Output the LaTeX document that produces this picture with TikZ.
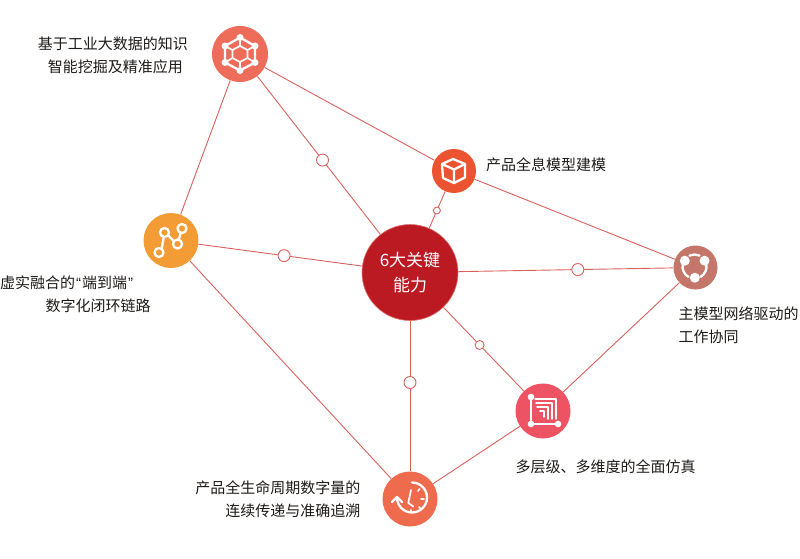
\documentclass[tikz,border=0pt]{standalone}
\usepackage{fontspec}
\setmainfont{Noto Sans CJK SC}
\newfontfamily\quotefont{Liberation Sans}
\definecolor{linkred}{HTML}{D9615C}
\definecolor{inktext}{HTML}{1E1A18}
\definecolor{miningfill}{RGB}{238,108,90}
\definecolor{cubefill}{RGB}{236,83,48}
\definecolor{masterfill}{RGB}{196,118,106}
\definecolor{multifill}{RGB}{238,83,99}
\definecolor{lifefill}{RGB}{239,107,78}
\definecolor{twinfill}{RGB}{243,156,53}
\definecolor{corefill}{RGB}{188,26,34}
\definecolor{coreedge}{RGB}{222,110,110}
\tikzset{
	hub/.style={circle, inner sep=0pt, minimum size=#1},
	tag/.style={font=\fontsize{15}{23}\selectfont, text=inktext, inner sep=0pt},
	link/.style={draw=linkred, line width=0.9pt},
	tick/.style={circle, draw=linkred, fill=white, line width=0.9pt, inner sep=0pt, minimum size=#1},
	icon/.style={draw=white, line width=2.3pt, line cap=round, line join=round},
	iconthin/.style={draw=white, line width=1.7pt, line cap=round, line join=round},
}
\def\iconring(#1,#2:#3){\draw[icon] (#1, #2) circle (#3);}
\def\icondot(#1,#2:#3){\fill[white] (#1, #2) circle (#3);}

\begin{document}
\begin{tikzpicture}[x=1pt, y=-1pt]
	%%%%% START %%%%%
	\useasboundingbox (0, 0) rectangle (800, 559);

	\node[hub=56pt, fill=miningfill] (mining) at (240, 54) {};
	\node[hub=44pt, fill=cubefill] (cube) at (454, 171) {};
	\node[hub=44pt, fill=masterfill] (master) at (695.5, 267.5) {};
	\node[hub=55pt, fill=multifill] (multi) at (543, 411) {};
	\node[hub=55pt, fill=lifefill] (life) at (410, 499) {};
	\node[hub=55pt, fill=twinfill] (twin) at (171, 240.5) {};
	\node[hub=96pt, fill=corefill, draw=coreedge, line width=0.6pt, text=white, align=center, font=\fontsize{17}{25}\selectfont] (core) at (410, 272.5) {6大关键\\能力};

	\draw[link] (mining) -- (cube);
	\draw[link] (mining) -- (twin);
	\draw[link] (cube) -- (master);
	\draw[link] (twin) -- (life);
	\draw[link] (multi) -- (master);
	\draw[link] (multi) -- (life);
	\draw[link] (mining) -- node[tick=12pt, pos=0.53] (tickmining) {} (core);
	\draw[link] (twin) -- node[tick=12pt, pos=0.523] (ticktwin) {} (core);
	\draw[link] (core) -- node[tick=12pt, pos=0.556] (tickmaster) {} (master);
	\draw[link] (core) -- node[tick=9pt, pos=0.45] (tickmulti) {} (multi);
	\draw[link] (core) -- node[tick=12pt, pos=0.41] (ticklife) {} (life);
	\draw[link] (cube) -- node[tick=7pt, pos=0.52] (tickcube) {} (core);

	\node[tag, anchor=east, align=center] (miningtext) at (188, 55) {基于工业大数据的知识\\\hspace*{5pt}智能挖掘及精准应用};
	\node[tag, anchor=west] (cubetext) at (486, 164.5) {产品全息模型建模};
	\node[tag, anchor=west, align=left] (mastertext) at (678.5, 325) {主模型网络驱动的\\工作协同};
	\node[tag, anchor=west] (multitext) at (515.5, 466.5) {多层级、多维度的全面仿真};
	\node[tag, anchor=east, align=right] (lifetext) at (360.5, 499) {产品全生命周期数字量的\\连续传递与准确追溯};
	\node[tag, anchor=west] (twintext) at (0, 282.5) {虚实融合的\kern1pt{\quotefont “}\kern1pt 端到端\kern1pt{\quotefont ”}};
	\node[tag, anchor=west] (twintext2) at (45.5, 305.5) {数字化闭环链路};

	% mining icon
	\begin{scope}[shift={(mining)}]
		\draw[icon] (0, -16.5) -- (15, -8) -- (15, 8.5) -- (0, 16.5) -- (-15, 8.5) -- (-15, -8) -- cycle;
		\draw[iconthin] (0, -8) -- (7.5, -4) -- (7.5, 4) -- (0, 8) -- (-7.5, 4) -- (-7.5, -4) -- cycle;
		\draw[iconthin] (0, -16.5) -- (0, -8) (15, -8) -- (7.5, -4) (15, 8.5) -- (7.5, 4) (0, 16.5) -- (0, 8) (-15, 8.5) -- (-7.5, 4) (-15, -8) -- (-7.5, -4);
		\foreach \hx/\hy in {0/-16.5, 15/-8, 15/8.5, 0/16.5, -15/8.5, -15/-8}
			{\icondot(\hx,\hy:3.5)}
	\end{scope}

	% twin icon
	\begin{scope}[shift={(twin)}]
		\draw[icon] (-9.5, 9.5) -- (-6.5, -8) (-3.5, -6) -- (3.5, 1.5) (7.5, 0) -- (11, -12);
		\foreach \hx/\hy in {-12/12, -6.5/-8, 6.5/3.5, 11/-12}
			{\fill[twinfill] (\hx, \hy) circle (4.5);
			\iconring(\hx,\hy:4.5)}
	\end{scope}

	% cube icon
	\begin{scope}[shift={(cube)}]
		\draw[icon] (-1, -12) -- (11, -7) -- (11, 6.5) -- (0, 12) -- (-11, 7) -- (-12, -7) -- cycle;
		\draw[icon] (-12, -7) -- (0, -1.5) -- (11, -7) (0, -1.5) -- (0, 12);
	\end{scope}

	% master icon
	\begin{scope}[shift={(master)}]
		\draw[icon] (-1, -1) ++(-115:12) arc (-115:-65:12);
		\draw[icon] (-1, -1) ++(-10:12) arc (-10:60:12);
		\draw[icon] (-1, -1) ++(120:12) arc (120:190:12);
		\icondot(-10.7,-6.8:5)
		\icondot(9,-6.8:5)
		\icondot(-0.7,10.2:5)
	\end{scope}

	% multi icon
	\begin{scope}[shift={(multi)}]
		\draw[iconthin] (-12, -14) -- (-12, 13) -- (15, 13);
		\draw[iconthin, line width=1.4pt] (-8, -12) -- (13, -12) -- (13, 8);
		\draw[iconthin, line width=1.4pt] (-7, -8) -- (9, -8) -- (9, 8);
		\draw[iconthin, line width=1.4pt] (-6, -4) -- (5, -4) -- (5, 8);
		\draw[iconthin, line width=1.4pt] (-3, 0) -- (1, 0) -- (1, 6);
		\icondot(-12,-14:3.3)
		\icondot(-12,13:3.3)
		\icondot(15,13:3.3)
	\end{scope}

	% life icon
	\begin{scope}[shift={(life)}]
		\draw[icon] (2, -16.5) arc (-90:180:15);
		\draw[icon] (-18, 3) -- (-13, -2) -- (-8, 3);
		\draw[iconthin] (1, -9) -- (-1.7, 4) -- (3.3, 7.5);
		\draw[iconthin] (11, 0) -- (14, 0) (8, -8) -- (9.5, -10) (9, 8) -- (10.5, 9.5) (1, 11) -- (1, 13);
	\end{scope}

	%%%%% END %%%%%
\end{tikzpicture}
\end{document}
